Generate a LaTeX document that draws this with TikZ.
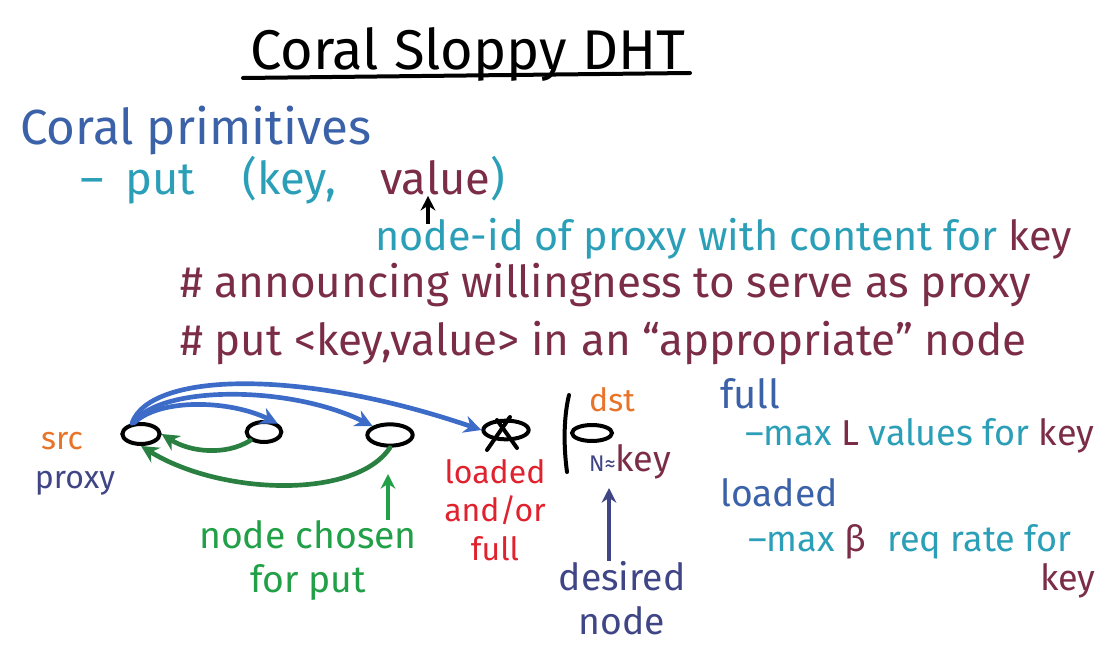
\documentclass[tikz,border=0pt]{standalone}
\usepackage{fontspec}
\setmainfont{Fira Sans}
\usetikzlibrary{arrows.meta,shapes.geometric,calc}
\definecolor{hblue}{HTML}{3B62A8}
\definecolor{hcyan}{HTML}{2B9FB8}
\definecolor{hmaroon}{HTML}{7B2D48}
\definecolor{hnavy}{HTML}{3F4585}
\definecolor{horange}{HTML}{E8742A}
\definecolor{hred}{HTML}{E0222E}
\definecolor{hgreen}{HTML}{22A048}
\definecolor{agreen}{HTML}{2A8040}
\definecolor{ablue}{HTML}{3C6CC8}
\begin{document}
\begin{tikzpicture}[x=0.75pt,y=-0.75pt,
  txt/.style={anchor=base west,inner sep=0pt},
  lbl/.style={inner sep=0pt,align=center},
  nd/.style={draw=black,ellipse,line width=3pt,inner sep=0pt},
  bluearr/.style={draw=ablue,line width=3.5pt,line cap=round,-{Stealth[length=13pt,width=13pt]}},
  greenarr/.style={draw=agreen,line width=3.5pt,line cap=round,-{Stealth[length=13pt,width=13pt]}},
  uparr/.style={line width=3pt,-{Stealth[length=11pt,width=11pt]}},
  f42/.style={font=\fontsize{42}{46}\selectfont},
  f37/.style={font=\fontsize{37}{41}\selectfont},
  f34/.style={font=\fontsize{34}{38}\selectfont},
  f33/.style={font=\fontsize{33}{36}\selectfont},
  f31/.style={font=\fontsize{31}{34}\selectfont},
  f30/.style={font=\fontsize{30}{33}\selectfont},
  f28/.style={font=\fontsize{28}{31}\selectfont},
  f27/.style={font=\fontsize{27}{30}\selectfont},
  f24/.style={font=\fontsize{24}{27}\selectfont},
]
\useasboundingbox (0,0) rectangle (1114,663);
% title
\node[txt,f42] (title) at (250,70) {Coral Sloppy DHT};
\draw[line width=3pt,line cap=round] (243,78) -- (690,73);
% primitives
\node[txt,f37,hblue] (prim) at (20,145) {Coral primitives};
\node[txt,f34,hcyan] (put) at (80,195) {–\hspace{16pt}put\hspace{36pt}(key,};
\node[txt,f34,hmaroon] (val) at (380,195) {value};
\node[txt,f34,hcyan] (rp) at (val.base east) {)};
\coordinate (vtail) at (428,224);
\draw[uparr] (vtail) -- (vtail |- val.south);
\node[txt,f31,hcyan] (nid) at (375,250) {node-id of proxy with content for \textcolor{hmaroon}{key}};
\node[txt,f33,hmaroon] (ann) at (180,297) {\# announcing willingness to serve as proxy};
\node[txt,f33,hmaroon] (put2) at (180,355) {\# put <key,value> in an “appropriate” node};
% nodes
\node[nd,minimum width=28pt,minimum height=15pt] (src) at (141,434) {};
\node[nd,minimum width=26pt,minimum height=15pt] (n1) at (264,432) {};
\node[nd,minimum width=34pt,minimum height=16pt] (n2) at (390,435) {};
\node[nd,minimum width=34pt,minimum height=14pt] (n3) at (506,430) {};
\draw[line width=3pt,line cap=round] (487,450) -- (510,417);
\draw[line width=3pt,line cap=round] (497,420) -- (517,448);
\node[nd,minimum width=30pt,minimum height=12pt] (dst) at (592,433) {};
\draw[line width=3pt,line cap=round] (569,395) .. controls (563,420) and (564,450) .. (567,472);
% labels
\node[lbl,f24,horange] (srcl) at (62,441) {src};
\node[lbl,f24,hnavy] (prox) at (75,483) {proxy};
\node[lbl,f24,hred] (ld) at (495,510) {loaded\\[2pt]and/or\\[2pt]full};
\node[lbl,f24,horange] (dstl) at (612,400) {dst};
\node[lbl,f27,hnavy] (nkey) at (630,462) {{\fontsize{17}{18}\selectfont N≈}\textcolor{hmaroon}{key}};
\node[lbl,f28,hgreen] (chosen) at (308,560) {node chosen\\[2pt]for put};
\node[lbl,f28,hnavy] (desired) at (622,598) {desired\\[2pt]node};
% arrows
\draw[bluearr] (src.120) .. controls (160,398) and (230,400) .. (n1.north east);
\draw[bluearr] (src.125) .. controls (160,385) and (290,385) .. (n2.north west);
\draw[bluearr] (src.130) .. controls (150,372) and (300,368) .. (n3.west);
\draw[greenarr] (n1.south west) .. controls (225,456) and (190,452) .. (src.east);
\draw[greenarr] (n2.south) .. controls (355,500) and (220,495) .. (src.south);
\coordinate (chtip) at (388,474);
\draw[uparr,draw=hgreen] (chosen.north -| chtip) -- (chtip);
\coordinate (dtip) at (609,488);
\draw[uparr,draw=hnavy] (desired.north -| dtip) -- (dtip);
% right side
\node[txt,f30,hblue] (full) at (720,408) {full};
\node[txt,f27,hcyan] (maxl) at (745,445) {–max \textcolor{hmaroon}{L} values for \textcolor{hmaroon}{key}};
\node[txt,f28,hblue] (loaded) at (720,506) {loaded};
\node[txt,f27,hcyan] (maxb) at (748,551) {–max\ \textcolor{hmaroon}{β}\hspace{16pt}req rate for};
\node[txt,f27,hmaroon] (key2) at (1040,590) {key};
\end{tikzpicture}
\end{document}
